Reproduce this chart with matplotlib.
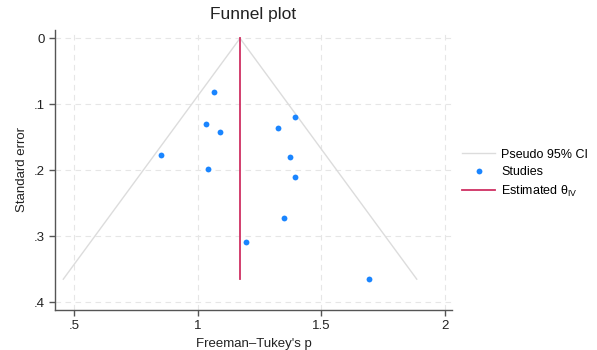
import numpy as np
import matplotlib
matplotlib.use("Agg")
import matplotlib.pyplot as plt
from matplotlib.lines import Line2D

plt.rcParams['font.family'] = ['Liberation Sans', 'DejaVu Sans']
plt.rcParams['mathtext.fontset'] = 'custom'
plt.rcParams['mathtext.rm'] = 'Liberation Sans'
plt.rcParams['mathtext.it'] = 'Liberation Sans:italic'

# Study effect sizes (Freeman-Tukey transformed) and their standard errors
effect = [1.068, 1.036, 1.091, 0.852, 1.044, 1.327, 1.395, 1.374, 1.395, 1.351, 1.195, 1.696]
se = [0.081, 0.130, 0.1415, 0.177, 0.1976, 0.136, 0.120, 0.180, 0.2106, 0.272, 0.308, 0.365]
theta_iv = 1.172

x_ticks = [0.5, 1, 1.5, 2]
x_tick_labels = [".5", "1", "1.5", "2"]
y_ticks = [0, 0.1, 0.2, 0.3, 0.4]
y_tick_labels = ["0", ".1", ".2", ".3", ".4"]

blue = "#1a85ff"
red = "#cf2f62"
ci_gray = "#dcdcdc"
axis_gray = "#555555"

fig = plt.figure(figsize=(5.97, 3.5), dpi=100)
ax = fig.add_axes([0.0921, 0.1143, 0.6650, 0.80])

# Pseudo 95% confidence limits
se_max = max(se)
se_line = np.array([0, se_max])
ax.plot(theta_iv - 1.96 * se_line, se_line, color=ci_gray, lw=1.0, zorder=2)
ax.plot(theta_iv + 1.96 * se_line, se_line, color=ci_gray, lw=1.0, zorder=2)

# Studies
ax.plot(effect, se, 'o', color=blue, ms=4.2, mec='none', zorder=4)

# Pooled estimate
ax.plot([theta_iv, theta_iv], [0, se_max], color=red, lw=1.3, zorder=3)

ax.set_xlim(0.423, 2.030)
ax.set_ylim(0.4117, -0.0126)

ax.set_xticks(x_ticks)
ax.set_xticklabels(x_tick_labels)
ax.set_yticks(y_ticks)
ax.set_yticklabels(y_tick_labels)
ax.grid(True, color="#e6e6e6", ls=(0, (5, 4)), lw=0.8, zorder=0)
ax.set_axisbelow(True)

for s in ["top", "right"]:
    ax.spines[s].set_visible(False)
for s in ["left", "bottom"]:
    ax.spines[s].set_color(axis_gray)
    ax.spines[s].set_linewidth(1.0)
ax.tick_params(axis='both', colors=axis_gray, labelcolor="#222222", labelsize=9.5,
               direction='out', length=4, width=1.0)

ax.set_xlabel("Freeman\u2013Tukey's p", fontsize=9.5, color="#222222", labelpad=4)
ax.set_ylabel("Standard error", fontsize=9.5, color="#222222", labelpad=4)
ax.set_title("Funnel plot", fontsize=12.5, color="#222222", pad=8)

handles = [
    Line2D([], [], color=ci_gray, lw=1.0),
    Line2D([], [], ls='none', marker='o', color=blue, ms=4.2, mec='none'),
    Line2D([], [], color=red, lw=1.3),
]
labels = ["Pseudo 95% CI", "Studies", "Estimated \u03b8$_{\\mathrm{IV}}$"]
fig.legend(handles, labels, loc='upper left', bbox_to_anchor=(0.766, 0.59),
           frameon=False, fontsize=9, handlelength=2.6, handletextpad=0.5,
           labelspacing=0.45, borderaxespad=0)

fig.savefig("out.png", dpi=100)
